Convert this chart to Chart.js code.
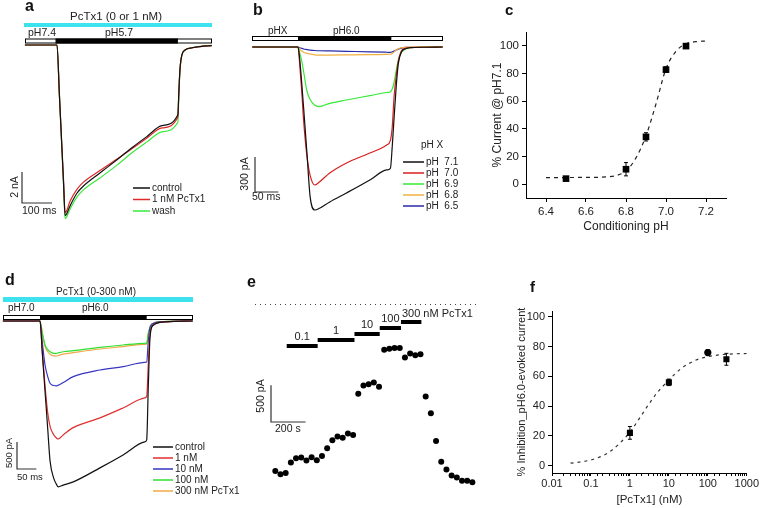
<!DOCTYPE html>
<html><head><meta charset="utf-8">
<script src="https://cdn.jsdelivr.net/npm/chart.js@4/dist/chart.umd.min.js"></script>
<style>
html,body{margin:0;padding:0;background:#fff;}
#wrap{position:relative;width:760px;height:508px;overflow:hidden;background:#fff;}
canvas{position:absolute;display:block;}
</style></head><body><div id="wrap">
<canvas id="ca" width="230" height="240" style="left:0;top:0"></canvas>
<canvas id="cb" width="240" height="240" style="left:230px;top:0"></canvas>
<canvas id="cc" width="290" height="240" style="left:470px;top:0"></canvas>
<canvas id="cd" width="240" height="253" style="left:0;top:255px"></canvas>
<canvas id="ce" width="260" height="238" style="left:240px;top:270px"></canvas>
<canvas id="cf" width="260" height="228" style="left:500px;top:280px"></canvas>
</div>
<script>
// ---------- DATA ----------
// Panel a : time (ms), current (nA)
const timeA = [-107,0,8,16,22,27,32,43,67,88,143,200,253,300,350,403,405,408,411,416,427,450,477,516];
const controlA = [0,0,-3.2,-6.5,-9.0,-11.0,-10.9,-10.4,-9.55,-9.1,-8.26,-7.4,-6.58,-5.9,-5.2,-4.5,-3.6,-2.2,-1.3,-0.65,-0.32,-0.18,-0.1,-0.04];
const pctxA = [0,0,-3.2,-6.4,-8.8,-10.8,-10.7,-10.1,-9.3,-8.85,-8.1,-7.35,-6.65,-6.0,-5.35,-4.65,-3.7,-2.3,-1.35,-0.66,-0.32,-0.18,-0.1,-0.04];
const washA = [0,0,-3.3,-6.6,-9.1,-11.2,-11.1,-10.6,-9.8,-9.35,-8.58,-7.75,-6.9,-6.25,-5.6,-4.97,-4.0,-2.4,-1.4,-0.68,-0.33,-0.18,-0.08,-0.03];
const legendA = ['control','1 nM PcTx1','wash'];
const pulseA = [0, 403];

// Panel b : time (ms), current (pA)
const timeB = [-98,0,4,8,12,19,26,36,45,68,104,154,190,198,202,206,211,215,222,230,240,270,310];
const pH71 = [0,0,-120,-310,-520,-900,-1283,-1397,-1385,-1328,-1251,-1140,-1054,-1040,-850,-600,-310,-140,-40,-15,-6,-2,0];
const pH70 = [0,0,-169,-380,-630,-930,-1100,-1183,-1160,-1080,-994,-909,-840,-800,-683,-420,-230,-120,-30,-12,-5,-2,0];
const pH69 = [0,0,-54,-120,-210,-375,-450,-500,-511,-483,-454,-417,-390,-383,-360,-300,-190,-111,-45,-20,-6,-2,0];
const pH68 = [0,0,-20,-35,-45,-54,-60,-67,-69,-69,-68,-66,-63,-62,-55,-42,-25,-14,-6,-3,0,2,3];
const pH65 = [0,0,-6,-12,-17,-22,-26,-30,-32,-34,-37,-41,-45,-46,-42,-35,-26,-18,-9,-4,-2,0,0];
const legendB = ['pH  7.1','pH  7.0','pH  6.9','pH  6.8','pH  6.5'];
const pulseB = [0, 200];

// Panel c
const phC = [6.5, 6.8, 6.9, 7.0, 7.1];
const currentC = [4.0, 10.8, 34.2, 82.8, 99.8];
const errC = [1.0, 4.8, 3.0, 2.0, 0.5];
const fitPhC = [6.4,6.5,6.6,6.7,6.75,6.8,6.85,6.9,6.95,7.0,7.05,7.1,7.15,7.2];
const fitC = [4.8,4.8,4.9,5.2,6.2,9.5,19,35,58,83.5,96,101.5,103,103.5];
const xTicksC = [6.4, 6.6, 6.8, 7.0, 7.2];
const yTicksC = [0, 20, 40, 60, 80, 100];

// Panel d : time (ms), current (pA)
const timeD = [-96,0,6,13,20,26,35,43,47,60,86,155,215,271,276,280,284,288,293,301,327,395];
const dControl = [0,0,-600,-1300,-2000,-2590,-2900,-3030,-3070,-3040,-2980,-2720,-2480,-2240,-2200,-1240,-380,-135,-80,-45,-15,0];
const d1nM = [0,0,-560,-1200,-1700,-1950,-2100,-2170,-2185,-2110,-1975,-1795,-1610,-1425,-1395,-815,-265,-120,-75,-40,-15,0];
const d10nM = [0,0,-400,-815,-1030,-1154,-1195,-1200,-1190,-1140,-1031,-907,-846,-766,-760,-383,-135,-70,-45,-25,-10,0];
const d100nM = [0,0,-220,-444,-530,-570,-598,-598,-590,-570,-550,-487,-444,-413,-410,-228,-130,-75,-45,-20,-8,0];
const d300nM = [0,0,-230,-470,-570,-615,-645,-648,-640,-615,-587,-519,-475,-432,-430,-240,-135,-78,-45,-20,-8,0];
const legendD = ['control','1 nM','10 nM','100 nM','300 nM PcTx1'];
const pulseD = [0, 276];

// Panel e : time (s), peak current (pA)
const timeE = [0,30,60,90,120,150,180,210,240,270,300,330,360,390,420,450,480,510,540,570,600,630,660,690,720,750,780,810,840,870,900,930,960,990,1020,1050,1080,1110,1140];
const currentE = [-2280,-2324,-2307,-2162,-2105,-2096,-2136,-2092,-2131,-2074,-1969,-1859,-1807,-1824,-1767,-1789,-1228,-1114,-1096,-1074,-1131,-627,-614,-605,-605,-732,-680,-702,-688,-1263,-1491,-1869,-2153,-2259,-2338,-2368,-2412,-2412,-2430];
const concLabelsE = ['0.1','1','10','100','300 nM PcTx1'];
const appStartE = [66, 245, 458, 604, 727];
const appEndE = [245, 458, 604, 727, 845];

// Panel f
const concF = [1, 10, 100, 300];
const inhibF = [22, 56, 76, 71.5];
const errF = [4.3, 2.2, 2.0, 4.0];
const fitConcF = [0.03,0.05,0.1,0.2,0.3,0.5,1,2,3,5,10,20,50,100,200,500,1000];
const fitF = [1.6,2.3,3.8,6.6,9.2,14,22.5,34,41,49,57.5,65,71,73.2,74.5,75.2,75.4];
const yTicksF = [0, 20, 40, 60, 80, 100];

// ---------- HELPERS ----------
const FONT = '"Liberation Sans", Arial, Helvetica, sans-serif';
function T(ctx, s, x, y, o) {
  o = o || {};
  ctx.save();
  ctx.font = (o.bold ? 'bold ' : '') + (o.size || 10) + 'px ' + FONT;
  ctx.fillStyle = o.color || '#222';
  ctx.textAlign = o.align || 'left';
  ctx.textBaseline = o.base || 'middle';
  if (o.rot) { ctx.translate(x, y); ctx.rotate(o.rot); ctx.fillText(s, 0, 0); }
  else ctx.fillText(s, x, y);
  ctx.restore();
}
function scaleBar(ctx, xs, ys, x0, y0, dx, dy) {
  const w = xs.getPixelForValue(xs.min + dx) - xs.getPixelForValue(xs.min);
  const h = ys.getPixelForValue(ys.min) - ys.getPixelForValue(ys.min + dy);
  ctx.save(); ctx.strokeStyle = '#333'; ctx.lineWidth = 1.2;
  ctx.beginPath(); ctx.moveTo(x0, y0 - h); ctx.lineTo(x0, y0); ctx.lineTo(x0 + w, y0); ctx.stroke();
  ctx.restore();
}
function pulseBar(ctx, xs, x0, x1, y, h, tOn, tOff) {
  ctx.save();
  ctx.fillStyle = '#fff'; ctx.fillRect(x0, y, x1 - x0, h);
  const a = xs.getPixelForValue(tOn), b = xs.getPixelForValue(tOff);
  ctx.fillStyle = '#000'; ctx.fillRect(a, y, b - a, h);
  ctx.strokeStyle = '#000'; ctx.lineWidth = 1; ctx.strokeRect(x0 + 0.5, y + 0.5, x1 - x0 - 1, h - 1);
  ctx.restore();
}
function legend(ctx, labels, colors, x0, x1, y0, dy, size) {
  labels.forEach((l, i) => {
    const y = y0 + i * dy;
    ctx.save(); ctx.strokeStyle = colors[i]; ctx.lineWidth = 1.5;
    ctx.beginPath(); ctx.moveTo(x0, y); ctx.lineTo(x1, y); ctx.stroke(); ctx.restore();
    T(ctx, l, x1 + 2, y, {size: size});
  });
}
function traceChart(id, xr, yr, times, series, colors, deco) {
  return new Chart(document.getElementById(id), {
    type: 'line',
    data: {datasets: series.map((s, k) => ({
      data: times.map((t, i) => ({x: t, y: s[i]})),
      borderColor: colors[k], borderWidth: 1.2, pointRadius: 0, fill: false,
      cubicInterpolationMode: 'monotone'}))},
    options: {responsive: false, animation: false, devicePixelRatio: 1, events: [],
      layout: {padding: 0},
      plugins: {legend: {display: false}, tooltip: {enabled: false}},
      scales: {x: {type: 'linear', min: xr[0], max: xr[1], display: false},
               y: {type: 'linear', min: yr[0], max: yr[1], display: false}}},
    plugins: [{id: 'deco', afterDraw: c => deco(c.ctx, c.scales.x, c.scales.y)}]
  });
}
const CYAN = '#3ce2ee';

// ---------- PANEL A ----------
const colA = ['#111', '#e02828', '#3ae83a'];
traceChart('ca', [-57/0.3, 173/0.3], [-195/15.5, 45/15.5], timeA, [controlA, pctxA, washA], colA, (ctx, xs, ys) => {
  T(ctx, 'a', 25, 11, {bold: true, size: 16, base: 'alphabetic', color: '#111'});
  T(ctx, 'PcTx1 (0 or 1 nM)', 116, 16.5, {size: 11.5, align: 'center'});
  ctx.fillStyle = CYAN; ctx.fillRect(24, 23, 188, 4);
  pulseBar(ctx, xs, 25, 212, 38.5, 5, pulseA[0] - 5, pulseA[1]);
  T(ctx, 'pH7.4', 28, 33, {size: 10.5});
  T(ctx, 'pH5.7', 105, 33, {size: 10.5});
  scaleBar(ctx, xs, ys, 22, 203, 100, 2);
  T(ctx, '2 nA', 15, 187, {size: 10.5, align: 'center', rot: -Math.PI / 2});
  T(ctx, '100 ms', 22, 211, {size: 10.5});
  legend(ctx, legendA, colA, 133, 150, 188, 11.5, 10);
});

// ---------- PANEL B ----------
const colB = ['#111', '#d81e1e', '#35e835', '#f0b040', '#2a2aa8'];
const pxMsB = 70 / 3 / 50, pxPaB = 35 / 300;
traceChart('cb', [-68 / pxMsB, 172 / pxMsB], [-193 / pxPaB, 47 / pxPaB], timeB, [pH71, pH70, pH69, pH68, pH65], colB, (ctx, xs, ys) => {
  T(ctx, 'b', 23, 15, {bold: true, size: 16, base: 'alphabetic', color: '#111'});
  pulseBar(ctx, xs, 22, 213, 36, 5, pulseB[0], pulseB[1]);
  T(ctx, 'pHX', 38, 31, {size: 10});
  T(ctx, 'pH6.0', 103, 31, {size: 10});
  scaleBar(ctx, xs, ys, 25, 192, 50, 300);
  T(ctx, '300 pA', 15, 174, {size: 10.5, align: 'center', rot: -Math.PI / 2});
  T(ctx, '50 ms', 22, 197.5, {size: 10.5});
  T(ctx, 'pH X', 191, 145, {size: 10});
  legend(ctx, legendB, colB, 173, 194, 162, 11, 10);
});

// ---------- PANEL D ----------
const colD = ['#111', '#e03030', '#3535c0', '#30e030', '#f0a848'];
const pxMsD = 19.33 / 50, pxPaD = 27 / 500;
traceChart('cd', [-40 / pxMsD, 200 / pxMsD], [-187 / pxPaD, 66 / pxPaD], timeD, [dControl, d1nM, d10nM, d100nM, d300nM], colD, (ctx, xs, ys) => {
  T(ctx, 'd', 5, 30, {bold: true, size: 16, base: 'alphabetic', color: '#111'});
  T(ctx, 'PcTx1 (0-300 nM)', 96, 37, {size: 10, align: 'center'});
  ctx.fillStyle = CYAN; ctx.fillRect(3, 42, 190, 5);
  pulseBar(ctx, xs, 3, 193, 60, 5, pulseD[0], pulseD[1]);
  T(ctx, 'pH7.0', 8, 53, {size: 10});
  T(ctx, 'pH6.0', 82, 53, {size: 10});
  scaleBar(ctx, xs, ys, 17, 214, 50, 500);
  T(ctx, '500 pA', 9, 198, {size: 9.5, align: 'center', rot: -Math.PI / 2});
  T(ctx, '50 ms', 17, 222, {size: 9.5});
  legend(ctx, legendD, colD, 153, 173, 192, 11, 10);
});

// ---------- PANEL E ----------
const pxSE = 5.35 / 30, pxPaE = 38 / 500;
new Chart(document.getElementById('ce'), {
  type: 'line',
  data: {datasets: [{data: timeE.map((t, i) => ({x: t, y: currentE[i]})), showLine: false,
    pointRadius: 3, pointBackgroundColor: '#000', pointBorderWidth: 0, borderColor: '#000'}]},
  options: {responsive: false, animation: false, devicePixelRatio: 1, events: [], layout: {padding: 0},
    plugins: {legend: {display: false}, tooltip: {enabled: false}},
    scales: {x: {type: 'linear', min: -32.3 / pxSE, max: 227.7 / pxSE, display: false},
             y: {type: 'linear', min: -207.3 / pxPaE, max: 30.7 / pxPaE, display: false}}},
  plugins: [{id: 'decoE', afterDraw(c) {
    const ctx = c.ctx, xs = c.scales.x, ys = c.scales.y;
    T(ctx, 'e', 7, 17, {bold: true, size: 16, base: 'alphabetic', color: '#111'});
    const y0 = Math.round(ys.getPixelForValue(0)) + 0.5;
    ctx.save(); ctx.strokeStyle = '#444'; ctx.lineWidth = 1; ctx.setLineDash([1, 4]);
    ctx.beginPath(); ctx.moveTo(15, y0); ctx.lineTo(240, y0); ctx.stroke(); ctx.restore();
    concLabelsE.forEach((lab, i) => {
      const a = xs.getPixelForValue(appStartE[i]), b = xs.getPixelForValue(appEndE[i]);
      const y = 76 - 6 * i;
      ctx.fillStyle = '#000'; ctx.fillRect(a, y - 2, b - a, 4);
      if (i < concLabelsE.length - 1) T(ctx, lab, (a + b) / 2, y - 9.5, {size: 11, align: 'center'});
      else T(ctx, lab, a + 1, y - 8, {size: 11});
    });
    scaleBar(ctx, xs, ys, 31, 152, 200, 500);
    T(ctx, '500 pA', 21, 126, {size: 10.5, align: 'center', rot: -Math.PI / 2});
    T(ctx, '200 s', 35, 159, {size: 10.5});
  }}]
});

// ---------- PANEL C ----------
function errPlugin(xv, yv, ev, half) {
  return {id: 'err', afterDatasetsDraw(c) {
    const ctx = c.ctx, xs = c.scales.x, ys = c.scales.y;
    ctx.save(); ctx.strokeStyle = '#000'; ctx.lineWidth = 1;
    xv.forEach((x, i) => {
      const px = xs.getPixelForValue(x), a = ys.getPixelForValue(yv[i] + ev[i]), b = ys.getPixelForValue(yv[i] - ev[i]);
      ctx.beginPath(); ctx.moveTo(px, a); ctx.lineTo(px, b);
      ctx.moveTo(px - half, a); ctx.lineTo(px + half, a);
      ctx.moveTo(px - half, b); ctx.lineTo(px + half, b); ctx.stroke();
    });
    ctx.restore();
  }};
}
function axisOpts(extra) {
  return Object.assign({
    grid: {display: true, drawOnChartArea: false, drawTicks: true, tickLength: 4, color: '#000'},
    border: {display: true, color: '#000', width: 1},
    ticks: {color: '#222', font: {family: FONT, size: 11.5}, padding: 3, autoSkip: false, maxRotation: 0}
  }, extra);
}
new Chart(document.getElementById('cc'), {
  type: 'line',
  data: {datasets: [
    {data: fitPhC.map((x, i) => ({x: x, y: fitC[i]})), borderColor: '#222', borderWidth: 1.2, borderDash: [4, 4],
     pointRadius: 0, cubicInterpolationMode: 'monotone', order: 2},
    {data: phC.map((x, i) => ({x: x, y: currentC[i]})), showLine: false, pointStyle: 'rect', pointRadius: 4.7,
     pointBackgroundColor: '#000', pointBorderWidth: 0, borderColor: '#000', order: 1}
  ]},
  options: {responsive: false, animation: false, devicePixelRatio: 1, events: [],
    layout: {padding: {left: 0, top: 32, right: 34, bottom: 0}},
    plugins: {legend: {display: false}, tooltip: {enabled: false}},
    scales: {
      x: axisOpts({type: 'linear', min: 6.3, max: 7.3,
        afterBuildTicks: s => { s.ticks = xTicksC.map(v => ({value: v})); },
        afterFit: s => { s.height = 42; },
        title: {display: true, text: 'Conditioning pH', color: '#222', font: {family: FONT, size: 12}, padding: {top: 0, bottom: 6}}}),
      y: axisOpts({type: 'linear', min: -10, max: 110,
        afterBuildTicks: s => { s.ticks = yTicksC.map(v => ({value: v})); },
        afterFit: s => { s.width = 56; },
        title: {display: true, text: '% Current @ pH7.1', color: '#222', font: {family: FONT, size: 12}, padding: {top: 20, bottom: 0}}})
    }},
  plugins: [errPlugin(phC, currentC, errC, 2), {id: 'lblC', afterDraw(c) {
    T(c.ctx, 'c', 35, 15, {bold: true, size: 15, base: 'alphabetic', color: '#111'});
  }}]
});
document.getElementById('cc').getContext('2d').canvas.style.left = '470px';
document.getElementById('cc').style.top = '0px';

// ---------- PANEL F ----------
new Chart(document.getElementById('cf'), {
  type: 'line',
  data: {datasets: [
    {data: fitConcF.map((x, i) => ({x: x, y: fitF[i]})), borderColor: '#333', borderWidth: 1.2, borderDash: [3, 4],
     pointRadius: 0, cubicInterpolationMode: 'monotone', order: 2},
    {data: concF.map((x, i) => ({x: x, y: inhibF[i]})), showLine: false,
     pointStyle: ['rect', 'rect', 'circle', 'rect'], pointRadius: [4.3, 4.3, 3.6, 4.3],
     pointBackgroundColor: '#000', pointBorderWidth: 0, borderColor: '#000', order: 1}
  ]},
  options: {responsive: false, animation: false, devicePixelRatio: 1, events: [],
    layout: {padding: {left: 0, top: 31, right: 13, bottom: 0}},
    plugins: {legend: {display: false}, tooltip: {enabled: false}},
    scales: {
      x: axisOpts({type: 'logarithmic', min: 0.01, max: 1000,
        grid: {display: true, drawOnChartArea: false, drawTicks: true, tickLength: 3, color: '#000'},
        ticks: {color: '#222', font: {family: FONT, size: 11}, padding: 1, autoSkip: false, maxRotation: 0,
          callback: v => { const l = Math.log10(v); return Math.abs(l - Math.round(l)) < 1e-6 ? String(Number(v.toPrecision(3))) : ''; }},
        afterFit: s => { s.height = 35; },
        title: {display: true, text: '[PcTx1] (nM)', color: '#222', font: {family: FONT, size: 11.5}, padding: {top: 0, bottom: 1}}}),
      y: axisOpts({type: 'linear', min: -5, max: 104,
        ticks: {color: '#222', font: {family: FONT, size: 11}, padding: 3, autoSkip: false, maxRotation: 0},
        afterBuildTicks: s => { s.ticks = yTicksF.map(v => ({value: v})); },
        afterFit: s => { s.width = 52; },
        title: {display: true, text: '% Inhibition_pH6.0-evoked current', color: '#222', font: {family: FONT, size: 11}, padding: {top: 15, bottom: 0}}})
    }},
  plugins: [errPlugin(concF, inhibF, errF, 2), {id: 'lblF', afterDraw(c) {
    T(c.ctx, 'f', 30, 12, {bold: true, size: 15, base: 'alphabetic', color: '#111'});
  }}]
});
</script>
</body></html>
